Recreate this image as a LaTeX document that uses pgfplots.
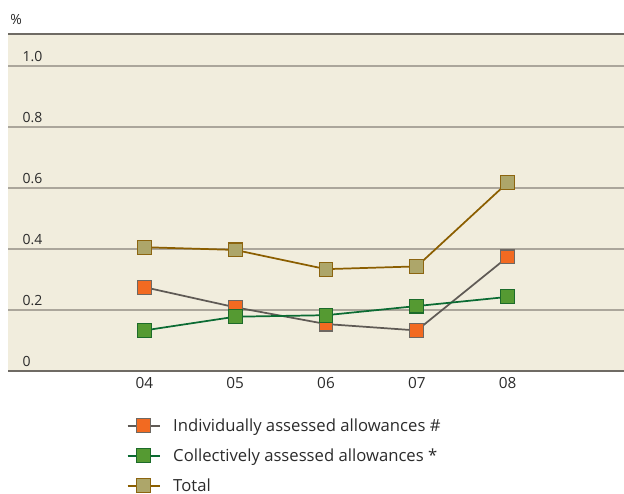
\documentclass[border=0pt]{standalone}
\usepackage{pgfplots}
\pgfplotsset{compat=1.18}
\usepackage{fontspec}
\setmainfont{Open Sans}
\definecolor{bgc}{HTML}{F1EDDD}
\definecolor{gridc}{HTML}{ABA69B}
\definecolor{axc}{HTML}{6F6B64}
\definecolor{txt}{HTML}{2B2B2B}
\definecolor{orf}{HTML}{F26A21}
\definecolor{orb}{HTML}{6E6862}
\definecolor{orl}{HTML}{5F5A55}
\definecolor{grf}{HTML}{559A32}
\definecolor{grb}{HTML}{1C6B2A}
\definecolor{grl}{HTML}{0B6B33}
\definecolor{ttf}{HTML}{ADA66A}
\definecolor{ttb}{HTML}{8C6510}
\definecolor{ttl}{HTML}{8B5E00}
\begin{document}
\begin{tikzpicture}
\begin{axis}[
  name=ax,
  clip=false,
  scale only axis,
  width=462pt, height=252.75pt,
  xmin=-1.5, xmax=5.28,
  ymin=0, ymax=1.105,
  axis background/.style={fill=bgc},
  axis line style={draw=none},
  xtick={0,1,2,3,4},
  xticklabels={04,05,06,07,08},
  ytick={0,0.2,0.4,0.6,0.8,1.0},
  yticklabels={0,0.2,0.4,0.6,0.8,1.0},
  major tick length=0pt,
  ymajorgrids,
  grid style={gridc, line width=1pt},
  yticklabel style={font=\fontsize{10.5}{12}\selectfont, text=txt, anchor=south west, xshift=7.5pt, yshift=-0.5pt},
  xticklabel style={font=\fontsize{11.5}{13}\selectfont, text=txt, yshift=-1pt},
  legend style={at={(0.186,-0.124)}, anchor=north west, draw=none, fill=none,
    font=\fontsize{12.5}{15}\selectfont, text=txt, row sep=7.5pt,
    /tikz/every odd column/.append style={column sep=7.5pt}},
  legend cell align=left,
  legend image code/.code={\draw[mark repeat=2,mark phase=2,#1] plot coordinates {(0pt,0pt) (12pt,0pt) (24pt,0pt)};},
]
\addplot[orl, line width=1.3pt, mark=square*, mark size=5.2pt, mark options={fill=orf, draw=orb, line width=0.8pt}]
  coordinates {(0,0.275) (1,0.209) (2,0.154) (3,0.133) (4,0.374)};
\addlegendentry{Individually assessed allowances \#}
\addplot[grl, line width=1.3pt, mark=square*, mark size=5.2pt, mark options={fill=grf, draw=grb, line width=0.8pt}]
  coordinates {(0,0.133) (1,0.178) (2,0.183) (3,0.213) (4,0.243)};
\addlegendentry{Collectively assessed allowances *}
\addplot[ttl, line width=1.3pt, mark=square*, mark size=5.2pt, mark options={fill=ttf, draw=ttb, line width=0.8pt}]
  coordinates {(0,0.406) (1,0.397) (2,0.334) (3,0.343) (4,0.618)};
\addlegendentry{Total}
\draw[axc, line width=1.5pt] (rel axis cs:0,0) -- (rel axis cs:1,0);
\draw[axc, line width=1.1pt] (rel axis cs:0,1) -- (rel axis cs:1,1);
\coordinate (BL) at (rel axis cs:0,0);
\coordinate (TR) at (rel axis cs:1,1);
\end{axis}
\node[anchor=south west, inner sep=0pt, text=txt, font=\fontsize{10.5}{12}\selectfont] at ([xshift=1.5pt,yshift=7pt]BL|-TR) {\%};
\pgfresetboundingbox
\path[use as bounding box] ([xshift=-6pt,yshift=-92pt]BL) rectangle ([yshift=25.5pt]TR);
\end{tikzpicture}
\end{document}
